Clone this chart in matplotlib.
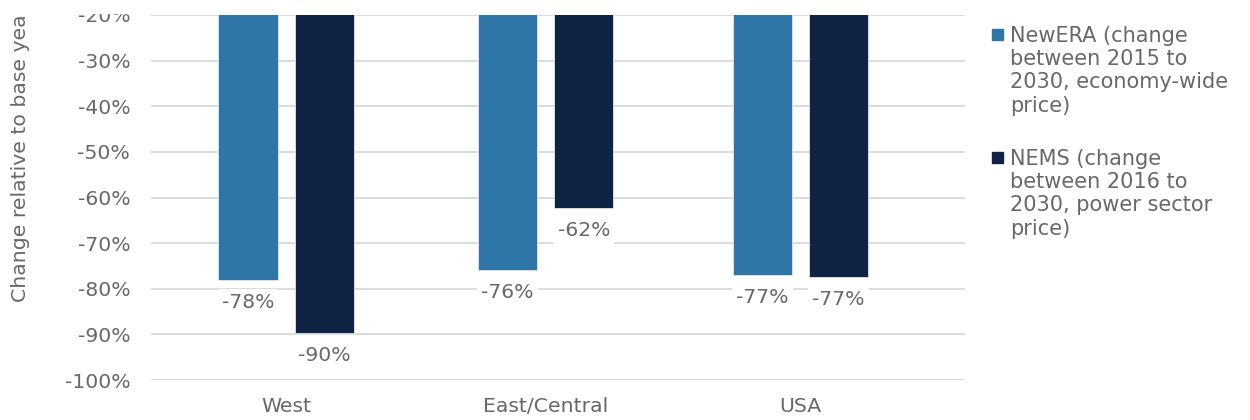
import matplotlib
matplotlib.use("Agg")
import matplotlib.pyplot as plt
from matplotlib.patches import Rectangle
import numpy as np

plt.rcParams['font.family'] = ['DejaVu Sans']

regions = ['West', 'East/Central', 'USA']
newera = [-78.1, -75.9, -77.0]
nems = [-89.7, -62.3, -77.4]
series_names = ['NewERA (change\nbetween 2015 to\n2030, economy-wide\nprice)',
                'NEMS (change\nbetween 2016 to\n2030, power sector\nprice)']
colors = ['#2E75A8', '#102345']
yticks = [-100, -90, -80, -70, -60, -50, -40, -30, -20]

grey = '#686868'
fs = 14.7

fig = plt.figure(figsize=(12.5, 4.2), dpi=100)
ax = fig.add_axes([151 / 1250, 40 / 420, 814 / 1250, 365 / 420])

x = np.array([0, 1.01, 2.0])
w = 0.23
off = 0.148
for vals, dx, c in [(newera, -off, colors[0]), (nems, off, colors[1])]:
    bars = ax.bar(x + dx, vals, width=w, color=c, edgecolor='#dfe8f0',
                  linewidth=0.6, zorder=2)
    for b, v in zip(bars, vals):
        ax.annotate('%d%%' % round(v), (b.get_x() + b.get_width() / 2, v),
                    xytext=(0, -16), textcoords='offset points',
                    ha='center', va='center', fontsize=fs, color=grey,
                    bbox=dict(boxstyle='square,pad=0.2', fc='white', ec='none'),
                    zorder=3)

ax.set_ylim(-100, -20)
ax.set_xlim(-0.525, 2.64)
ax.set_yticks(yticks)
ax.set_yticklabels(['%d%%' % t for t in yticks])
ax.set_xticks(x)
ax.set_xticklabels(regions)
ax.grid(axis='y', color='#dcdcdc', linewidth=1.4, zorder=0)
ax.set_axisbelow(True)
for s in ax.spines.values():
    s.set_visible(False)
ax.tick_params(axis='both', length=0, labelsize=fs, colors=grey)
ax.tick_params(axis='y', pad=15)
ax.tick_params(axis='x', pad=12)

fig.text(21 / 1250, 1 - 302 / 420, 'Change relative to base year',
         rotation=90, ha='center', va='bottom', fontsize=fs, color=grey)

# legend
for i, (name, c) in enumerate(zip(series_names, colors)):
    ytop = 1 - (29 + i * 123) / 420
    fig.patches.append(Rectangle((992 / 1250, ytop - 11 / 420), 11 / 1250, 11 / 420,
                                 transform=fig.transFigure, color=c))
    fig.text(1010 / 1250, ytop + 3 / 420, name, ha='left', va='top',
             fontsize=15, color=grey, linespacing=1.2)

# the source image is cropped just above the top gridline
fig.patches.append(Rectangle((0, 1 - 13 / 420), 1, 13 / 420,
                             transform=fig.transFigure, color='white', zorder=10))

fig.savefig('out.png', dpi=100)
